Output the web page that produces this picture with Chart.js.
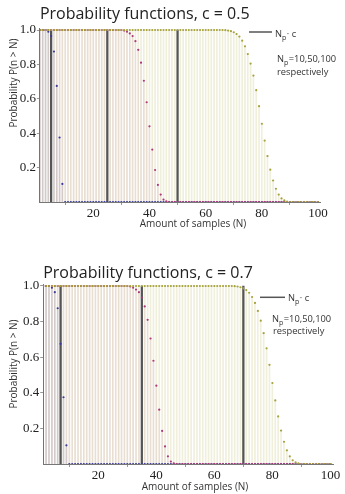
<!DOCTYPE html>
<html>
<head>
<meta charset="utf-8">
<script src="https://cdn.jsdelivr.net/npm/chart.js@4.4.0/dist/chart.umd.min.js"></script>
<style>
body { margin: 0; background: #fff; }
#wrap { position: relative; width: 345px; height: 494px; }
canvas { position: absolute; left: 0; }
#c05 { top: 0; }
#c07 { top: 240px; }
</style>
</head>
<body>
<div id="wrap">
	<canvas id="c05" width="345" height="240"></canvas>
	<canvas id="c07" width="345" height="254"></canvas>
</div>
<script>
// amount of samples N (x axis)
var sampleN = Array.from({length: 100}, (_, i) => i + 1);

// P(n > N), N = 1..100
var pNp10 = [
	1, 1, 1, 0.99, 0.965, 0.875, 0.675, 0.375, 0.105, 0,
	0, 0, 0, 0, 0, 0, 0, 0, 0, 0,
	0, 0, 0, 0, 0, 0, 0, 0, 0, 0,
	0, 0, 0, 0, 0, 0, 0, 0, 0, 0,
	0, 0, 0, 0, 0, 0, 0, 0, 0, 0,
	0, 0, 0, 0, 0, 0, 0, 0, 0, 0,
	0, 0, 0, 0, 0, 0, 0, 0, 0, 0,
	0, 0, 0, 0, 0, 0, 0, 0, 0, 0,
	0, 0, 0, 0, 0, 0, 0, 0, 0, 0,
	0, 0, 0, 0, 0, 0, 0, 0, 0, 0
];
var pNp50 = [
	1, 1, 1, 1, 1, 1, 1, 1, 1, 1,
	1, 1, 1, 1, 1, 1, 1, 1, 1, 1,
	1, 1, 1, 1, 1, 1, 1, 1, 1, 1,
	0.997, 0.99, 0.98, 0.965, 0.935, 0.885, 0.81, 0.705, 0.58, 0.44,
	0.305, 0.186, 0.099, 0.043, 0.014, 0.004, 0, 0, 0, 0,
	0, 0, 0, 0, 0, 0, 0, 0, 0, 0,
	0, 0, 0, 0, 0, 0, 0, 0, 0, 0,
	0, 0, 0, 0, 0, 0, 0, 0, 0, 0,
	0, 0, 0, 0, 0, 0, 0, 0, 0, 0,
	0, 0, 0, 0, 0, 0, 0, 0, 0, 0
];
var pNp100 = [
	1, 1, 1, 1, 1, 1, 1, 1, 1, 1,
	1, 1, 1, 1, 1, 1, 1, 1, 1, 1,
	1, 1, 1, 1, 1, 1, 1, 1, 1, 1,
	1, 1, 1, 1, 1, 1, 1, 1, 1, 1,
	1, 1, 1, 1, 1, 1, 1, 1, 1, 1,
	1, 1, 1, 1, 1, 1, 1, 1, 1, 1,
	1, 1, 1, 1, 1, 1, 0.999, 0.997, 0.993, 0.987,
	0.977, 0.962, 0.938, 0.905, 0.86, 0.805, 0.735, 0.65, 0.557, 0.455,
	0.357, 0.267, 0.188, 0.125, 0.077, 0.043, 0.021, 0.009, 0.003, 0,
	0, 0, 0, 0, 0, 0, 0, 0, 0, 0
];

// Np * c marker lines
var npcHalf = [5, 25, 50];
var npcSeven = [7, 35, 70];

var xTicks = [20, 40, 60, 80, 100];
var yTicks = [0.2, 0.4, 0.6, 0.8, 1.0];

var dotColors = ["#3b3b9a", "#b03a78", "#a6a23c"];
var fillColors = ["rgba(60, 60, 150, 0.13)", "rgba(170, 50, 110, 0.09)", "rgba(165, 160, 50, 0.17)"];
var sansFont = '"Open Sans", "Noto Sans", sans-serif';
var serifFont = '"Liberation Serif", "DejaVu Serif", serif';

function pairs(vals) {
	return sampleN.map((n, i) => ({x: n, y: vals[i]}));
}

// axis labels + legend text
var textPlugin = {
	id: "probText",
	afterDraw(chart, args, o) {
		var ctx = chart.ctx;
		ctx.save();
		ctx.fillStyle = "#333";
		ctx.textBaseline = "middle";
		ctx.textAlign = "center";
		ctx.font = "10px " + sansFont;
		ctx.fillText("Amount of samples (N)", o.xt[0], o.xt[1]);
		ctx.save();
		ctx.translate(o.yt[0], o.yt[1]);
		ctx.rotate(-Math.PI / 2);
		ctx.fillText("Probability P(n > N)", 0, 0);
		ctx.restore();

		// legend
		ctx.strokeStyle = "#555";
		ctx.lineWidth = 1.5;
		ctx.beginPath();
		ctx.moveTo(o.line[0], o.line[2]);
		ctx.lineTo(o.line[1], o.line[2]);
		ctx.stroke();
		ctx.textAlign = "left";
		ctx.textBaseline = "alphabetic";
		sub(ctx, o.l1[0], o.l1[1], "N", "p", "\u00b7 c");
		sub(ctx, o.l2[0], o.l2[1], "N", "p", "=10,50,100");
		ctx.font = "9.3px " + sansFont;
		ctx.fillText("respectively", o.l3[0], o.l3[1]);
		ctx.restore();
	}
};

function sub(ctx, x, y, base, s, rest) {
	ctx.font = "9.3px " + sansFont;
	ctx.fillText(base, x, y);
	x += ctx.measureText(base).width;
	ctx.font = "7px " + sansFont;
	ctx.fillText(s, x, y + 3);
	x += ctx.measureText(s).width + 0.5;
	ctx.font = "9.3px " + sansFont;
	ctx.fillText(rest, x, y);
}

function makeChart(id, title, npc, box) {
	var datasets = [];
	[pNp10, pNp50, pNp100].forEach((vals, k) => {
		datasets.push({
			type: "bar",
			data: pairs(vals),
			backgroundColor: fillColors[k],
			barThickness: 1,
			borderWidth: 0,
			grouped: false,
			order: 10
		});
	});
	datasets.push({
		type: "bar",
		data: npc.map(v => ({x: v, y: 1})),
		backgroundColor: "#555",
		barThickness: 1.6,
		borderWidth: 0,
		grouped: false,
		order: 8
	});
	[pNp10, pNp50, pNp100].forEach((vals, k) => {
		datasets.push({
			type: "scatter",
			data: pairs(vals),
			pointRadius: 1.1,
			pointBorderWidth: 0,
			pointBackgroundColor: dotColors[k],
			showLine: false,
			order: 3 - k
		});
	});

	return new Chart(document.getElementById(id), {
		type: "scatter",
		data: {datasets: datasets},
		options: {
			responsive: false,
			animation: false,
			devicePixelRatio: 1,
			layout: {padding: {left: 0, right: box.padRight, top: 0, bottom: 0}},
			plugins: {
				legend: {display: false},
				tooltip: {enabled: false},
				title: {
					display: true,
					text: title,
					align: "start",
					fullSize: false,
					color: "#222",
					font: {family: sansFont, size: 16, weight: "normal"},
					padding: box.titlePad
				},
				probText: box.text
			},
			scales: {
				x: {
					type: "linear",
					min: 1,
					max: box.xMax,
					offset: false,
					afterBuildTicks: s => { s.ticks = xTicks.map(v => ({value: v})); },
					afterFit: s => { s.height = box.xAxisH; },
					ticks: {
						font: {family: serifFont, size: 13},
						color: "#222",
						padding: 1,
						maxRotation: 0,
						autoSkip: false
					},
					grid: {drawOnChartArea: false, tickLength: 3, color: "#999"},
					border: {color: "#777", width: 1}
				},
				y: {
					min: 0,
					max: 1.01,
					afterBuildTicks: s => { s.ticks = yTicks.map(v => ({value: v})); },
					afterFit: s => { s.width = box.left; },
					ticks: {
						font: {family: serifFont, size: 13},
						color: "#222",
						padding: 1,
						callback: v => v.toFixed(1)
					},
					grid: {drawOnChartArea: false, tickLength: 3, color: "#999"},
					border: {color: "#777", width: 1}
				}
			}
		},
		plugins: [textPlugin]
	});
}

makeChart("c05", "Probability functions, c = 0.5", npcHalf, {
	left: 39.9, padRight: 25, xMax: 100.7, xAxisH: 38,
	titlePad: {top: 4.9, bottom: 4.2},
	text: {
		xt: [193, 224], yt: [14, 83],
		line: [249, 272, 32],
		l1: [275, 36.5], l2: [277, 62], l3: [277, 75]
	}
});

makeChart("c07", "Probability functions, c = 0.7", npcSeven, {
	left: 43.2, padRight: 12, xMax: 100.9, xAxisH: 30,
	titlePad: {top: 23.4, bottom: 1.6},
	text: {
		xt: [195, 246.7], yt: [14, 124],
		line: [260, 285, 57.3],
		l1: [288, 61.2], l2: [272, 81.5], l3: [273, 93.5]
	}
});
</script>
</body>
</html>
